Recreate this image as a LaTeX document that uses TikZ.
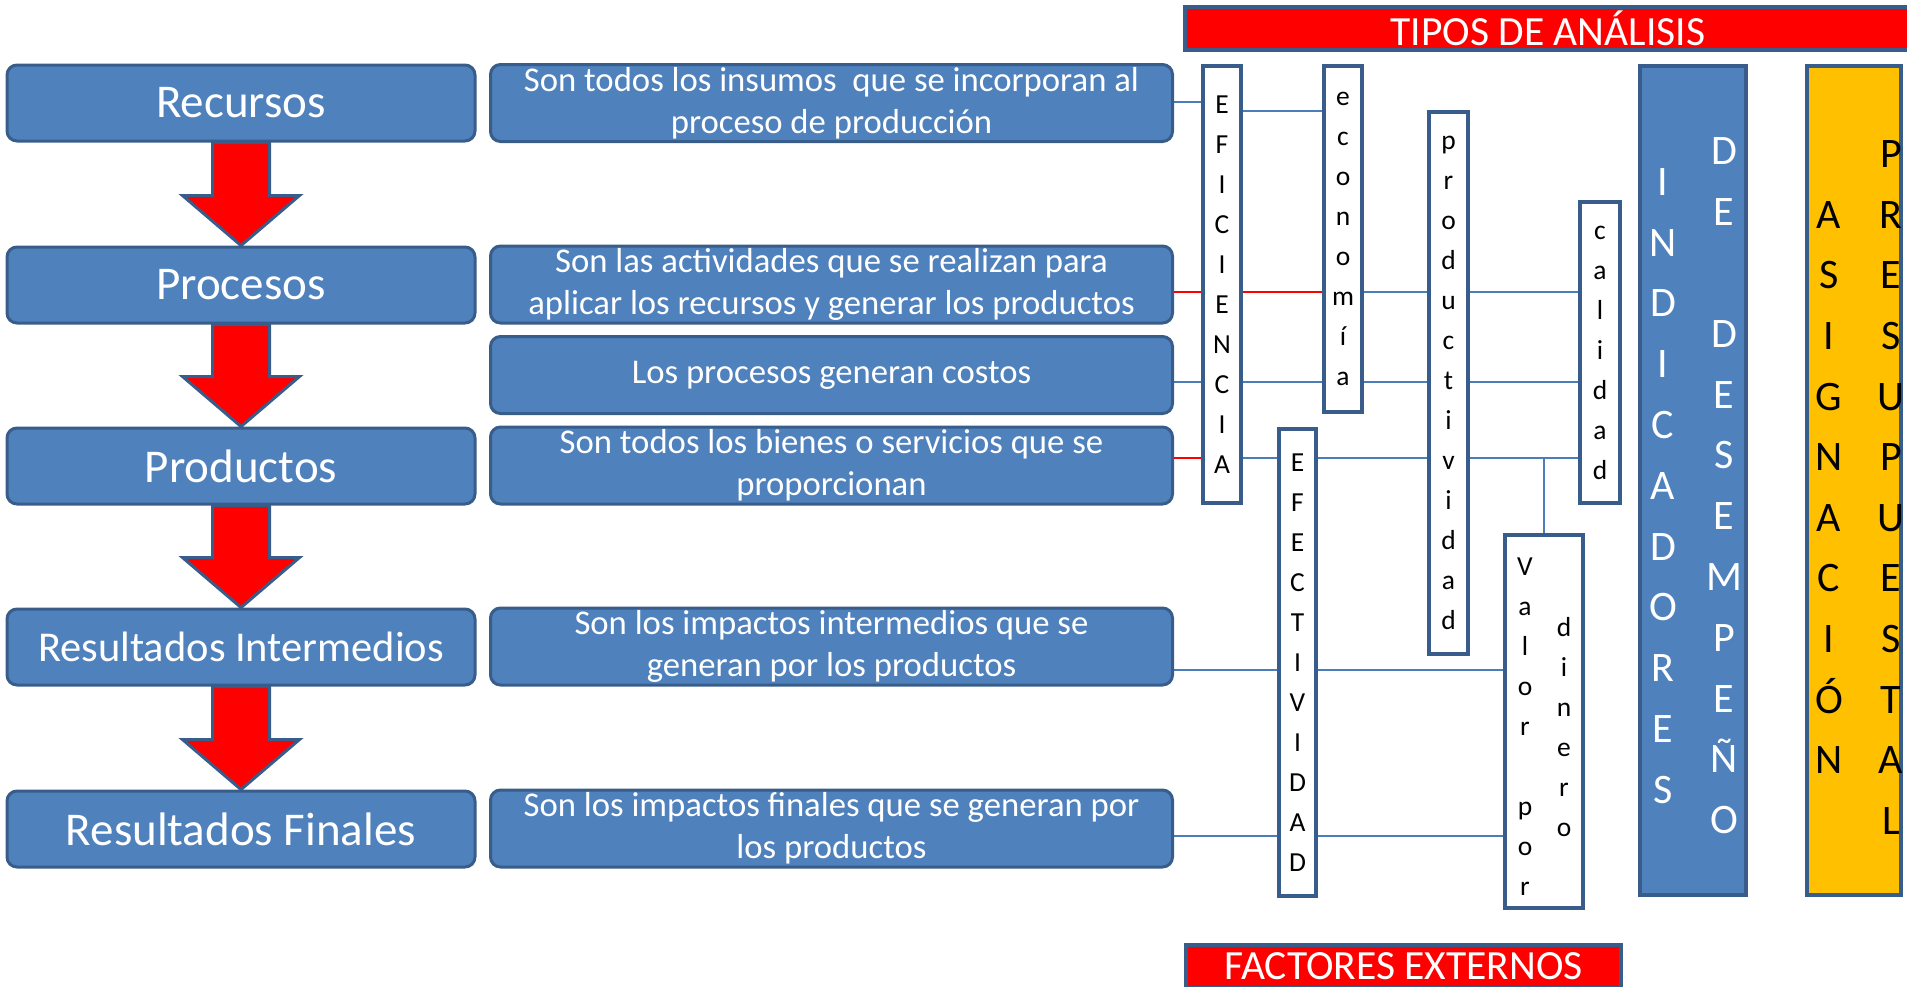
\documentclass[tikz,border=0pt]{standalone}
\usepackage{fontspec}
\setmainfont{Carlito}
\usepackage{tikz}
\usetikzlibrary{calc,backgrounds}
\definecolor{cajaazul}{HTML}{4F81BD}
\definecolor{bordeazul}{HTML}{385D8A}
\definecolor{lineaazul}{HTML}{4A7EBB}
\definecolor{naranja}{HTML}{FFC000}
\newcommand{\fs}[2]{\fontsize{#1}{#2}\selectfont}

\begin{document}
\begin{tikzpicture}[x=1pt,y=-1pt,
  etapa/.style={draw=bordeazul,line width=3pt,fill=cajaazul,rounded corners=10pt,minimum width=468pt,minimum height=76pt,text=white,font=\fs{47}{56}},
  desc/.style={draw=bordeazul,line width=3pt,fill=cajaazul,rounded corners=10pt,minimum width=682pt,minimum height=77pt,text=white,align=center,inner sep=0pt,font=\fs{34.7}{42}},
  letras/.style={draw=bordeazul,line width=4.5pt,fill=white,inner sep=0pt,align=center,font=\fs{27.5}{40}},
  columna/.style={draw=none,fill=none,inner sep=0pt,align=center},
  banda/.style={draw=bordeazul,line width=4pt,fill=red,text=white,inner sep=0pt,font=\fs{41.5}{50}},
  flecha/.style={draw=bordeazul,line width=3pt,fill=red,line join=miter},
  enlace/.style={draw=lineaazul,line width=2pt},
  enlacerojo/.style={draw=red,line width=2pt}]
  \useasboundingbox (0,0) rectangle (1907,986);
  \clip (0,0) rectangle (1907,986);

  % Etapas:
  \node[etapa] (rec) at (241,103) {Recursos};
  \node[etapa] (proc) at (241,285) {Procesos};
  \node[etapa] (prod) at (241,466) {Productos};
  \node[etapa,font=\fs{42.5}{50}] (resint) at (241,647) {Resultados Intermedios};
  \node[etapa] (resfin) at (241,829) {Resultados Finales};

  % Descripciones
  \node[desc] (recdesc) at (831.5,103) {Son todos los insumos~ que se incorporan al\\proceso de producción};
  \node[desc] (procdesc) at (831.5,284.5) {Son las actividades que se realizan para\\aplicar los recursos y generar los productos};
  \node[desc] (costdesc) at (831.5,375) {Los procesos generan costos};
  \node[desc] (proddesc) at (831.5,465.5) {Son todos los bienes o servicios que se\\proporcionan};
  \node[desc] (resintdesc) at (831.5,646.5) {Son los impactos intermedios que se\\generan por los productos};
  \node[desc] (resfindesc) at (831.5,828.5) {Son los impactos finales que se generan por\\los productos};

  % Tipos de analisis
  \node[banda,minimum width=726pt,minimum height=43pt] (tipos) at (1548,28.5) {TIPOS DE ANÁLISIS};
  \node[banda,minimum width=435pt,minimum height=43pt] (factores) at (1403.5,966) {FACTORES EXTERNOS};

  \node[letras,minimum width=38pt,minimum height=437pt] (efi) at (1222,284.5) {E\\F\\I\\C\\I\\E\\N\\C\\I\\A};
  \node[letras,minimum width=38pt,minimum height=346pt] (eco) at (1343,239) {e\\c\\o\\n\\o\\m\\í\\a};
  \node[letras,minimum width=39pt,minimum height=542pt] (produc) at (1448.5,383) {p\\r\\o\\d\\u\\c\\t\\i\\v\\i\\d\\a\\d};
  \node[letras,minimum width=40pt,minimum height=301pt] (cal) at (1600,352.5) {c\\a\\l\\i\\d\\a\\d};
  \node[letras,minimum width=37pt,minimum height=467pt] (efe) at (1297.5,662.5) {E\\F\\E\\C\\T\\I\\V\\I\\D\\A\\D};
  \node[letras,minimum width=78pt,minimum height=373pt] (valor) at (1544,721.5) {};
  \node[columna,font=\fs{27.5}{40}] (valor1) at (1525,727) {V\\a\\l\\o\\r\\~\\p\\o\\r};
  \node[columna,font=\fs{27.5}{40}] (valor2) at (1564,727) {d\\i\\n\\e\\r\\o};

  % Indicadores y asignacion
  \node[draw=bordeazul,line width=4pt,fill=cajaazul,minimum width=106pt,minimum height=829pt] (ind) at (1693,480.5) {};
  \node[columna,text=white,font=\fs{42}{60.8}] (ind1) at (1663,486) {I\\N\\D\\I\\C\\A\\D\\O\\R\\E\\S};
  \node[columna,text=white,font=\fs{42}{60.8}] (ind2) at (1724,486) {D\\E\\~\\D\\E\\S\\E\\M\\P\\E\\Ñ\\O};
  \node[draw=bordeazul,line width=4pt,fill=naranja,minimum width=94pt,minimum height=829pt] (asig) at (1854,480.5) {};
  \node[columna,font=\fs{42}{60.6}] (asig1) at (1829,487.5) {A\\S\\I\\G\\N\\A\\C\\I\\Ó\\N};
  \node[columna,font=\fs{42}{60.6}] (asig2) at (1891,487.5) {P\\R\\E\\S\\U\\P\\U\\E\\S\\T\\A\\L};

  % Flechas
  \begin{scope}[on background layer]
    \foreach \a/\b in {rec/proc,proc/prod,prod/resint,resint/resfin}
      \draw[flecha] ($(\a.south)+(-28.5,0)$) -- ($(\b.north)+(-28.5,-50)$) -- ($(\b.north)+(-58.5,-50)$) -- (\b.north) -- ($(\b.north)+(58.5,-50)$) -- ($(\b.north)+(28.5,-50)$) -- ($(\a.south)+(28.5,0)$) -- cycle;

    % Enlaces
    \coordinate (f1) at ($(recdesc.east)+(0,-1)$);
    \coordinate (f2) at ($(procdesc.east)+(0,7.5)$);
    \coordinate (f3) at ($(costdesc.east)+(0,7)$);
    \coordinate (f4) at ($(proddesc.east)+(0,-7.5)$);
    \coordinate (f5) at ($(resintdesc.east)+(0,23.5)$);
    \coordinate (f6) at ($(resfindesc.east)+(0,7.5)$);
    \draw[enlace] (f1) -- (efi.west |- f1);
    \draw[enlace] ($(efi.east |- f1)+(0,9)$) -- ($(eco.west |- f1)+(0,9)$);
    \draw[enlacerojo] (f2) -- (eco.west |- f2);
    \draw[enlace] (eco.east |- f2) -- (cal.west |- f2);
    \draw[enlace] (f3) -- (cal.west |- f3);
    \draw[enlacerojo] (f4) -- (efi.west |- f4);
    \draw[enlace] (efi.east |- f4) -- (cal.west |- f4);
    \draw[enlace] (valor.north |- f4) -- (valor.north);
    \draw[enlace] (f5) -- (valor.west |- f5);
    \draw[enlace] (f6) -- (valor.west |- f6);
  \end{scope}
\end{tikzpicture}
\end{document}
